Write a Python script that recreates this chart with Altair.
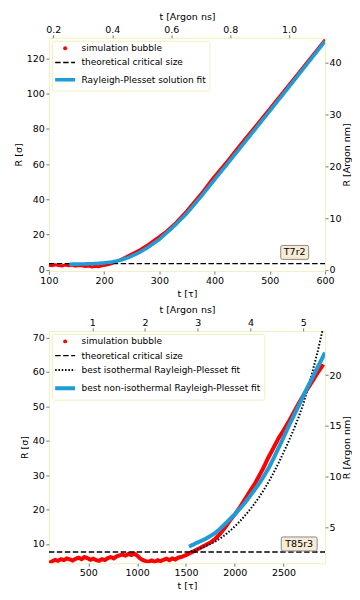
import altair as alt
import pandas as pd

FONT = "DejaVu Sans"
FRAME = "#efefbf"
RED = "#ff0000"
BLUE = "#1f9bd6"
BOXFILL = "#f8ebd5"
BOXSTROKE = "#8a8a8a"

# ---------------- panel A (T7r2) ----------------
a_series = ["simulation bubble", "theoretical critical size", "Rayleigh-Plesset solution fit"]
a_colors = [RED, "black", BLUE]
a_dashes = [[1, 0], [5.5, 2.5], [1, 0]]
a_widths = [3, 1.3, 3.6]
a_sim_tau = [100, 106, 112, 118, 124, 130, 136, 142, 148, 154, 160, 166, 172, 178, 184, 190, 196, 202, 208,
             214, 220, 230, 240, 252, 264, 280, 300, 313, 330, 349, 375, 397, 425, 446, 475, 500, 527, 550,
             575, 600]
a_sim_r = [2.6, 2.3, 2.9, 2.5, 2.2, 2.8, 2.4, 2.7, 2.1, 2.5, 2.3, 1.9, 2.2, 1.7, 2.0, 1.8, 2.3, 2.6, 3.0,
           3.6, 4.5, 5.8, 7.4, 9.3, 11.2, 14.4, 18.9, 22.0, 26.8, 33.3, 43.0, 52.0, 62.5, 70.9, 81.9, 91.6,
           102.1, 111.1, 120.8, 130.6]
a_fit_tau = [137, 160, 180, 200, 215, 230, 245, 264, 280, 300, 325, 349, 375, 400, 425, 450, 475, 500,
             525, 550, 575, 600]
a_fit_r = [3.2, 3.3, 3.5, 3.9, 4.5, 5.5, 7.1, 9.9, 12.9, 17.3, 24.3, 31.8, 41.4, 51.2, 60.9, 70.6, 80.4,
           90.2, 100.0, 109.9, 119.8, 129.7]
a_crit = 3.5
a_x_domain = [100, 600]
a_y_domain = [-0.7, 131.7]
a_ns_domain = [0.185, 1.122]
a_nm_domain = [-0.24, 44.8]
a_x_ticks = [100, 200, 300, 400, 500, 600]
a_y_ticks = [0, 20, 40, 60, 80, 100, 120]
a_ns_ticks = [0.2, 0.4, 0.6, 0.8, 1.0]
a_nm_ticks = [0, 10, 20, 30, 40]
a_label = "T7r2"
a_label_tau = 545
a_label_r = 9.9

# ---------------- panel B (T85r3) ----------------
b_series = ["simulation bubble", "theoretical critical size", "best isothermal Rayleigh-Plesset fit",
            "best non-isothermal Rayleigh-Plesset fit"]
b_colors = [RED, "black", "black", BLUE]
b_dashes = [[1, 0], [5.5, 2.5], [1.5, 1.8], [1, 0]]
b_widths = [4, 1.3, 2, 4]
b_sim_tau = [100, 130, 160, 190, 220, 250, 280, 310, 340, 370, 400, 430, 460, 490, 520, 550, 580, 610,
             640, 670, 700, 730, 760, 790, 820, 850, 880, 910, 940, 970, 1000, 1030, 1060, 1090, 1120,
             1150, 1180, 1210, 1240, 1270, 1300, 1330, 1360, 1390, 1420, 1450, 1480, 1510, 1540, 1580,
             1634, 1702, 1760, 1804, 1850, 1906, 1950, 2007, 2060, 2109, 2160, 2211, 2260, 2300, 2340,
             2380, 2450, 2500, 2550, 2600, 2650, 2720, 2760, 2800, 2850, 2907]
b_sim_r = [4.5, 5.0, 5.4, 5.1, 5.6, 5.3, 5.8, 5.5, 5.2, 5.7, 6.0, 5.6, 6.2, 5.9, 5.4, 5.7, 5.3, 5.1,
           5.6, 5.3, 5.9, 6.2, 5.8, 6.4, 6.7, 6.9, 6.6, 7.1, 6.8, 7.2, 6.6, 5.8, 5.3, 5.0, 4.9,
           5.2, 4.8, 5.3, 5.0, 5.4, 5.7, 5.3, 5.8, 5.5, 6.0, 6.2, 6.5, 6.9, 7.3, 7.9,
           8.7, 9.7, 10.6, 11.6, 13.0, 15.0, 16.8, 18.8, 21.0, 23.2, 25.5, 27.8, 30.3, 32.5, 34.9,
           37.0, 40.8, 43.0, 45.4, 48.0, 50.6, 54.0, 55.7, 57.5, 59.8, 62.2]
b_iso_tau = [1549, 1600, 1650, 1700, 1750, 1800, 1850, 1900, 1950, 2000, 2050, 2100, 2150, 2200, 2250,
             2300, 2350, 2400, 2450, 2500, 2550, 2600, 2650, 2700, 2750, 2800, 2850, 2890, 2920]
b_iso_r = [7.8, 8.3, 8.8, 9.4, 10.0, 10.7, 11.6, 12.6, 13.8, 15.1, 16.5, 18.1, 19.8, 21.6, 23.6,
           25.8, 28.2, 30.8, 33.6, 36.6, 39.7, 43.0, 46.5, 50.5, 55.3, 60.5, 66.0, 71.0, 74.5]
b_non_tau = [1532, 1600, 1650, 1702, 1750, 1800, 1850, 1900, 1950, 2000, 2050, 2100, 2150, 2200, 2250,
             2300, 2350, 2400, 2450, 2500, 2550, 2600, 2650, 2700, 2750, 2800, 2850, 2900, 2925]
b_non_r = [9.2, 10.2, 10.8, 11.5, 12.3, 13.2, 14.4, 15.8, 17.2, 18.6, 20.2, 21.8, 23.7, 25.6, 27.6,
           29.8, 32.2, 35.0, 38.0, 41.0, 44.1, 47.0, 49.9, 52.9, 55.8, 58.6, 61.4, 64.2, 65.6]
b_crit = 7.66
b_x_domain = [96, 2925]
b_y_domain = [4.4, 71.9]
b_ns_domain = [0.177, 5.414]
b_nm_domain = [1.49, 24.35]
b_x_ticks = [500, 1000, 1500, 2000, 2500]
b_y_ticks = [10, 20, 30, 40, 50, 60, 70]
b_ns_ticks = [1, 2, 3, 4, 5]
b_nm_ticks = [5, 10, 15, 20]
b_label = "T85r3"
b_label_tau = 2660
b_label_r = 10.0

W = 277
H_A = 234
H_B = 233


def rounded_box(hw, hh, r):
    return (f"M{-hw + r},{-hh} H{hw - r} Q{hw},{-hh} {hw},{-hh + r} V{hh - r} Q{hw},{hh} {hw - r},{hh} "
            f"H{-hw + r} Q{-hw},{hh} {-hw},{hh - r} V{-hh + r} Q{-hw},{-hh} {-hw + r},{-hh} Z")


def pick(series, vals):
    expr = vals[-1]
    for s, v in reversed(list(zip(series[:-1], vals[:-1]))):
        expr = f"datum.value === '{s}' ? {v} : ({expr})"
    return expr


def panel(series, colors, dashes, widths, sim_tau, sim_r, fits, crit, xd, yd, nsd, nmd,
          xt, yt, nst, nmt, nsfmt, label, ltau, lr, box_path, box_size, height):
    shapes = ["'circle'"] + ["'M-5,0H5'"] * (len(series) - 1)
    fills = [f"'{colors[0]}'"] + ["'transparent'"] * (len(series) - 1)
    strokes = [f"'{c}'" for c in colors]
    dash_s = [str(d) for d in dashes]
    sw = ["0"] + [str(w) for w in widths[1:]]
    legend = alt.Legend(
        title=None, orient="top-left", offset=3, padding=3, strokeColor=FRAME, fillColor="white",
        cornerRadius=2, labelFont=FONT, labelFontSize=9, labelLimit=400, rowPadding=4.3,
        symbolSize=16, symbolOffset=5.8, labelOffset=12,
        symbolType=alt.ExprRef(expr=pick(series, shapes)),
        symbolFillColor=alt.ExprRef(expr=pick(series, fills)),
        symbolStrokeColor=alt.ExprRef(expr=pick(series, strokes)),
        symbolDash=alt.ExprRef(expr=pick(series, dash_s)),
        symbolStrokeWidth=alt.ExprRef(expr=pick(series, sw)),
        symbolOpacity=1,
    )
    color = alt.Color("series:N", scale=alt.Scale(domain=series, range=colors), legend=legend)
    xs = alt.Scale(domain=xd, nice=False, zero=False)
    ys = alt.Scale(domain=yd, nice=False, zero=False)

    sim_df = pd.DataFrame({"tau": sim_tau, "R": sim_r, "series": series[0]})
    base_sim = alt.Chart(sim_df).mark_line(strokeWidth=widths[0], clip=True).encode(
        x=alt.X("tau:Q", scale=xs, axis=alt.Axis(title="t [τ]", values=xt, format="d",
                                                 labelPadding=1, titlePadding=3.5)),
        y=alt.Y("R:Q", scale=ys, axis=alt.Axis(title="R [σ]", values=yt, format="d")),
        color=color, order="tau:Q")

    crit_df = pd.DataFrame({"tau": xd, "R": [crit, crit], "series": series[1]})
    crit_layer = alt.Chart(crit_df).mark_line(strokeDash=dashes[1], strokeWidth=widths[1], clip=True).encode(
        x=alt.X("tau:Q", scale=xs, axis=None), y=alt.Y("R:Q", scale=ys, axis=None), color=color)

    layers = [base_sim, crit_layer]
    for i, (ft, fr) in enumerate(fits):
        k = i + 2
        df = pd.DataFrame({"tau": ft, "R": fr, "series": series[k]})
        layers.append(alt.Chart(df).mark_line(strokeDash=dashes[k], strokeWidth=widths[k], clip=True).encode(
            x=alt.X("tau:Q", scale=xs, axis=None), y=alt.Y("R:Q", scale=ys, axis=None),
            color=color, order="tau:Q"))

    ax_df = pd.DataFrame({"ns": nsd, "nm": nmd})
    layers.append(alt.Chart(ax_df).mark_point(opacity=0).encode(
        x=alt.X("ns:Q", scale=alt.Scale(domain=nsd, nice=False, zero=False),
                axis=alt.Axis(orient="top", title="t [Argon ns]", values=nst, format=nsfmt,
                              labelPadding=0.5)),
        y=alt.Y("nm:Q", scale=alt.Scale(domain=nmd, nice=False, zero=False),
                axis=alt.Axis(orient="right", title="R [Argon nm]", values=nmt, format="d",
                              titleAngle=270, titleBaseline="top", titlePadding=0.5, labelPadding=1))))

    lab_df = pd.DataFrame({"tau": [ltau], "R": [lr], "label": [label]})
    layers.append(alt.Chart(lab_df).mark_point(shape=box_path, size=box_size, filled=True, fill=BOXFILL,
                                               stroke=BOXSTROKE, strokeWidth=1, opacity=1).encode(
        x=alt.X("tau:Q", scale=xs, axis=None), y=alt.Y("R:Q", scale=ys, axis=None)))
    layers.append(alt.Chart(lab_df).mark_text(font=FONT, fontSize=9.5, color="black").encode(
        x=alt.X("tau:Q", scale=xs, axis=None), y=alt.Y("R:Q", scale=ys, axis=None), text="label:N"))

    return alt.layer(*layers).resolve_scale(x="independent", y="independent").properties(
        width=W, height=height)


top = panel(a_series, a_colors, a_dashes, a_widths, a_sim_tau, a_sim_r, [(a_fit_tau, a_fit_r)], a_crit,
            a_x_domain, a_y_domain, a_ns_domain, a_nm_domain, a_x_ticks, a_y_ticks, a_ns_ticks, a_nm_ticks,
            ".1f", a_label, a_label_tau, a_label_r, rounded_box(1, 0.5, 0.12), 784, H_A)
bottom = panel(b_series, b_colors, b_dashes, b_widths, b_sim_tau, b_sim_r,
               [(b_iso_tau, b_iso_r), (b_non_tau, b_non_r)], b_crit,
               b_x_domain, b_y_domain, b_ns_domain, b_nm_domain, b_x_ticks, b_y_ticks, b_ns_ticks, b_nm_ticks,
               "d", b_label, b_label_tau, b_label_r, rounded_box(1, 0.39, 0.1), 1296, H_B)

chart = alt.vconcat(top, bottom, spacing=6).resolve_scale(color="independent").properties(
    padding={"left": 4, "top": 2, "right": 0, "bottom": 0}
).configure_view(stroke=FRAME, strokeWidth=1).configure_axis(
    labelFont=FONT, titleFont=FONT, labelFontSize=9.5, titleFontSize=9.5, titleFontWeight="normal",
    labelColor="black", titleColor="black", tickColor="#777777", tickSize=3, domain=False, grid=False,
    labelFlush=False, labelPadding=1.5, titlePadding=3, labelOverlap=False
)

chart.save("out.html", embed_options={"renderer": "svg", "actions": False})
